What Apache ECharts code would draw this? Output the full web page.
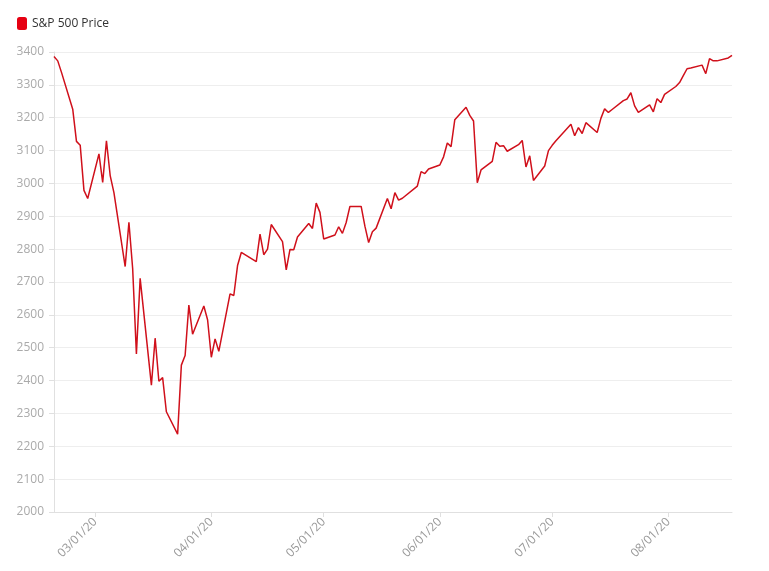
<!DOCTYPE html>
<html>
<head>
<meta charset="utf-8">
<script src="https://cdn.jsdelivr.net/npm/echarts@6/dist/echarts.min.js"></script>
<style>
html,body{margin:0;padding:0;background:#fff;}
#chart{width:769px;height:571px;}
</style>
</head>
<body>
<div id="chart"></div>
<script>
const seriesName = 'S&P 500 Price';
const dates = [
'2020-02-19','2020-02-20','2020-02-21','2020-02-24','2020-02-25','2020-02-26','2020-02-27','2020-02-28',
'2020-03-02','2020-03-03','2020-03-04','2020-03-05','2020-03-06','2020-03-09','2020-03-10','2020-03-11','2020-03-12','2020-03-13',
'2020-03-16','2020-03-17','2020-03-18','2020-03-19','2020-03-20','2020-03-23','2020-03-24','2020-03-25','2020-03-26','2020-03-27',
'2020-03-30','2020-03-31','2020-04-01','2020-04-02','2020-04-03','2020-04-06','2020-04-07','2020-04-08','2020-04-09',
'2020-04-13','2020-04-14','2020-04-15','2020-04-16','2020-04-17','2020-04-20','2020-04-21','2020-04-22','2020-04-23','2020-04-24',
'2020-04-27','2020-04-28','2020-04-29','2020-04-30','2020-05-01','2020-05-04','2020-05-05','2020-05-06','2020-05-07','2020-05-08',
'2020-05-11','2020-05-12','2020-05-13','2020-05-14','2020-05-15','2020-05-18','2020-05-19','2020-05-20','2020-05-21','2020-05-22',
'2020-05-26','2020-05-27','2020-05-28','2020-05-29','2020-06-01','2020-06-02','2020-06-03','2020-06-04','2020-06-05',
'2020-06-08','2020-06-09','2020-06-10','2020-06-11','2020-06-12','2020-06-15','2020-06-16','2020-06-17','2020-06-18','2020-06-19',
'2020-06-22','2020-06-23','2020-06-24','2020-06-25','2020-06-26','2020-06-29','2020-06-30','2020-07-01','2020-07-02',
'2020-07-06','2020-07-07','2020-07-08','2020-07-09','2020-07-10','2020-07-13','2020-07-14','2020-07-15','2020-07-16','2020-07-17',
'2020-07-20','2020-07-21','2020-07-22','2020-07-23','2020-07-24','2020-07-27','2020-07-28','2020-07-29','2020-07-30','2020-07-31',
'2020-08-03','2020-08-04','2020-08-05','2020-08-06','2020-08-07','2020-08-10','2020-08-11','2020-08-12','2020-08-13','2020-08-14',
'2020-08-17','2020-08-18'
];
const closes = [
3386,3373,3338,3226,3128,3116,2979,2954,
3090,3003,3130,3024,2972,2747,2882,2741,2481,2711,
2386,2529,2398,2409,2305,2237,2447,2476,2630,2541,
2627,2585,2471,2527,2489,2664,2659,2750,2790,
2762,2846,2783,2800,2875,2823,2737,2799,2798,2837,
2878,2863,2940,2912,2831,2843,2868,2848,2881,2930,
2930,2870,2820,2853,2864,2954,2923,2972,2949,2955,
2992,3036,3030,3044,3056,3081,3123,3112,3194,
3232,3207,3190,3002,3041,3067,3125,3113,3115,3098,
3118,3131,3050,3084,3009,3053,3100,3116,3130,
3180,3145,3170,3152,3185,3155,3198,3227,3216,3225,
3252,3257,3276,3236,3216,3239,3218,3258,3246,3271,
3295,3307,3328,3349,3351,3360,3334,3380,3373,3373,
3382,3390
];
const yMin = 2000, yMax = 3400, yStep = 100;

function pad(n){return (n<10?'0':'')+n;}
const chart = echarts.init(document.getElementById('chart'));
chart.setOption({
  animation: false,
  textStyle: { fontFamily: 'Open Sans' },
  legend: {
    left: 12, top: 12,
    icon: 'roundRect',
    itemWidth: 10, itemHeight: 13,
    itemGap: 10,
    textStyle: { color: '#333', fontSize: 12, fontFamily: 'Open Sans' },
    data: [{ name: seriesName, itemStyle: { color: '#e60012' } }]
  },
  grid: { left: 54, right: 37, top: 52, bottom: 59, containLabel: false },
  xAxis: {
    type: 'time',
    min: 'dataMin', max: 'dataMax',
    minInterval: 28 * 86400000,
    maxInterval: 31 * 86400000,
    splitLine: { show: false },
    axisLine: { lineStyle: { color: '#e0e0e0' } },
    axisTick: { show: true, length: 5, lineStyle: { color: '#e0e0e0' } },
    axisLabel: {
      rotate: 45, color: '#999', fontSize: 12, margin: 8,
      formatter: function (v) {
        const d = new Date(v);
        return pad(d.getMonth() + 1) + '/' + pad(d.getDate()) + '/' + pad(d.getFullYear() % 100);
      }
    }
  },
  yAxis: {
    type: 'value', min: yMin, max: yMax, interval: yStep,
    axisLine: { show: true, lineStyle: { color: '#e0e0e0' } },
    axisTick: { show: true, length: 5, lineStyle: { color: '#e0e0e0' } },
    axisLabel: { color: '#aaa', fontSize: 12, margin: 10, formatter: function (v) { return String(v); } },
    splitLine: { lineStyle: { color: '#eeeeee' } }
  },
  series: [{
    name: seriesName,
    type: 'line',
    data: dates.map((d, i) => [d, closes[i]]),
    showSymbol: false,
    symbol: 'none',
    color: '#d0101b',
    lineStyle: { width: 1.5, color: '#d0101b' }
  }]
});
</script>
</body>
</html>
